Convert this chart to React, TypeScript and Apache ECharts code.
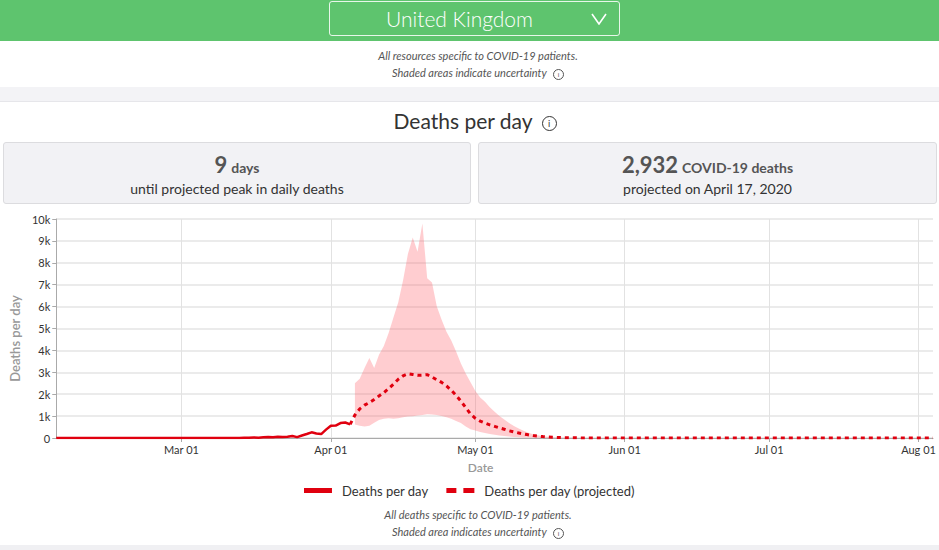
import React, { useEffect, useRef } from "react";
import * as echarts from "echarts";

// ---- data ----
const startDate = [2020, 1, 4]; // Feb 04 2020
const endDate = [2020, 7, 4]; // Aug 04 2020
const monthNames = ["Jan", "Feb", "Mar", "Apr", "May", "Jun", "Jul", "Aug", "Sep", "Oct", "Nov", "Dec"];

// observed deaths per day, Feb 04 .. Apr 05
const observed = [
  0, 0, 0, 0, 0, 0, 0, 0, 0, 0, 0, 0, 0, 0, 0, 0, 0, 0, 0, 0, 0, 0, 0, 0, 0, 0, 0, 0, 0, 0,
  1, 0, 1, 0, 1, 1, 2, 2, 1, 10, 14, 20, 16, 33, 40, 33, 56, 48, 54, 87, 41, 115, 181, 260,
  209, 180, 381, 563, 569, 684, 708, 621,
];

// projected deaths per day, Apr 05 .. Aug 04
const projectedStartIndex = 61;
const projected = [
  621, 1050, 1330, 1500, 1620, 1760, 1920, 2070, 2260, 2460, 2680, 2840, 2932, 2900, 2860, 2870,
  2890, 2780, 2660, 2540, 2380, 2180, 1950, 1680, 1390, 1100, 900, 770, 680, 600, 530, 460, 400,
  330, 275, 230, 185, 145, 110, 85, 65, 48, 35, 26, 19, 14, 10, 7, 5, 4, 3, 2, 2, 1,
  1, 1, 1, 1, 1, 1,
  0, 0, 0, 0, 0, 0, 0, 0, 0, 0, 0, 0, 0, 0, 0, 0, 0, 0, 0, 0, 0, 0, 0, 0, 0, 0, 0, 0, 0, 0, 0,
  0, 0, 0, 0, 0, 0, 0, 0, 0, 0, 0, 0, 0, 0, 0, 0, 0, 0, 0, 0, 0, 0, 0, 0, 0, 0, 0, 0, 0, 0, 0,
];

// uncertainty band, Apr 06 .. May 24
const bandStartIndex = 62;
const bandLower = [
  620, 560, 520, 560, 700, 820, 880, 900, 880, 900, 950, 980, 990, 1030, 1050, 1080, 1070, 1050,
  1010, 950, 880, 780, 690, 520, 400, 340, 270, 230, 185, 150, 115, 90, 65, 50, 38, 28, 20, 14,
  10, 7, 5, 4, 3, 2, 2, 1, 1, 1, 0,
];
const bandUpper = [
  2500, 2700, 3200, 3650, 3200, 3800, 4200, 4800, 5500, 6200, 7200, 8400, 9150, 8500, 9800, 7300,
  7100, 6000, 5400, 4850, 4450, 3950, 3400, 2950, 2550, 2150, 1850, 1650, 1400, 1200, 1000, 850,
  690, 550, 430, 330, 245, 175, 120, 80, 55, 35, 22, 14, 9, 6, 4, 2, 1,
];

const yTickLabels = ["0", "1k", "2k", "3k", "4k", "5k", "6k", "7k", "8k", "9k", "10k"];

const RED = "#e0000f";
const FONT = "Lato, 'Open Sans', sans-serif";

function buildDates(): string[] {
  const out: string[] = [];
  const d = new Date(startDate[0], startDate[1], startDate[2]);
  const end = new Date(endDate[0], endDate[1], endDate[2]);
  while (d.getTime() <= end.getTime()) {
    const dd = d.getDate();
    out.push(monthNames[d.getMonth()] + " " + (dd < 10 ? "0" + dd : "" + dd));
    d.setDate(d.getDate() + 1);
  }
  return out;
}

function pad(arr: number[], start: number, total: number): (number | null)[] {
  const res: (number | null)[] = [];
  for (let i = 0; i < total; i++) {
    const j = i - start;
    res.push(j >= 0 && j < arr.length ? arr[j] : null);
  }
  return res;
}

const Info = ({ size }: { size: number }) => (
  <span
    style={{
      display: "inline-block",
      width: size,
      height: size,
      borderRadius: "50%",
      border: "1px solid currentColor",
      fontSize: size * 0.72,
      lineHeight: size + "px",
      textAlign: "center",
      fontStyle: "normal",
      verticalAlign: "middle",
      marginLeft: 4,
      boxSizing: "content-box",
    }}
  >
    i
  </span>
);

function Chart() {
  const ref = useRef<HTMLDivElement>(null);
  useEffect(() => {
    if (!ref.current) return;
    const chart = echarts.init(ref.current, undefined, { renderer: "svg" });
    const dates = buildDates();
    const n = dates.length;
    const isMonthStart = (_i: number, v: string) => / 01$/.test(v);
    const diff = bandUpper.map((u, i) => u - bandLower[i]);
    chart.setOption({
      animation: false,
      textStyle: { fontFamily: FONT },
      grid: { left: 52, right: 6, top: 14, bottom: 67 },
      legend: {
        data: [
          { name: "Deaths per day", icon: "path://M0,0h28v5h-28z" },
          { name: "Deaths per day (projected)", icon: "path://M0,0h10v5h-10z M17,0h11v5h-11z" },
        ],
        top: 274,
        left: "center",
        itemWidth: 28,
        itemHeight: 5,
        itemGap: 18,
        textStyle: { fontSize: 13, color: "#333", fontFamily: FONT, padding: [0, 0, 0, 5] },
      },
      xAxis: {
        type: "category",
        data: dates,
        boundaryGap: false,
        axisLine: { lineStyle: { color: "#aaa" } },
        axisTick: { interval: isMonthStart, length: 4, lineStyle: { color: "#aaa" } },
        axisLabel: { interval: isMonthStart, color: "#333", fontSize: 11, margin: 6, fontFamily: FONT },
        splitLine: { show: true, interval: isMonthStart, lineStyle: { color: "#e2e2e2" } },
        name: "Date",
        nameLocation: "middle",
        nameGap: 23,
        nameTextStyle: { color: "#999", fontSize: 12, fontWeight: 600, padding: [0, 28, 0, 0], fontFamily: FONT },
      },
      yAxis: {
        type: "value",
        min: 0,
        max: 10000,
        interval: 1000,
        axisLine: { show: true, lineStyle: { color: "#aaa" } },
        axisTick: { show: true, length: 4, lineStyle: { color: "#aaa" } },
        axisLabel: {
          color: "#333",
          fontSize: 11,
          margin: 6,
          fontFamily: FONT,
          formatter: (v: number) => yTickLabels[Math.round(v / 1000)],
        },
        splitLine: { lineStyle: { color: "#e5e5e5", width: 1.5 } },
        name: "Deaths per day",
        nameLocation: "middle",
        nameGap: 35,
        nameTextStyle: { color: "#999", fontSize: 13, fontWeight: 600, fontFamily: FONT, padding: [0, 20, 0, 0] },
      },
      series: [
        {
          name: "lower",
          type: "line",
          stack: "band",
          data: pad(bandLower, bandStartIndex, n),
          symbol: "none",
          silent: true,
          lineStyle: { opacity: 0 },
        },
        {
          name: "band",
          type: "line",
          stack: "band",
          data: pad(diff, bandStartIndex, n),
          symbol: "none",
          silent: true,
          lineStyle: { opacity: 0 },
          areaStyle: { color: "rgba(255, 90, 100, 0.3)", opacity: 1 },
        },
        {
          name: "Deaths per day",
          type: "line",
          data: pad(observed, 0, n),
          symbol: "none",
          lineStyle: { color: RED, width: 2.5 },
          itemStyle: { color: RED },
        },
        {
          name: "Deaths per day (projected)",
          type: "line",
          data: pad(projected, projectedStartIndex, n),
          symbol: "none",
          lineStyle: { color: RED, width: 3, type: [4, 4] },
          itemStyle: { color: RED },
        },
      ],
    });
    return () => chart.dispose();
  }, []);
  return <div ref={ref} style={{ position: "absolute", left: 0, top: 205, width: 939, height: 300 }} />;
}

export default function App() {
  const note: React.CSSProperties = {
    position: "absolute",
    left: 0,
    width: 956,
    textAlign: "center",
    fontSize: 11,
    fontStyle: "italic",
    color: "#555",
    whiteSpace: "nowrap",
  };
  const box: React.CSSProperties = {
    position: "absolute",
    top: 142,
    height: 60,
    background: "#f2f2f5",
    border: "1px solid #dcdcdf",
    borderRadius: 3,
    textAlign: "center",
    color: "#333",
  };
  return (
    <div
      style={{
        position: "absolute",
        left: 0,
        top: 0,
        width: 939,
        height: 550,
        background: "#fff",
        overflow: "hidden",
        fontFamily: FONT,
      }}
    >
      <div style={{ position: "absolute", left: 0, top: 0, width: 939, height: 41, background: "#5ec46e" }}>
        <div
          style={{
            position: "absolute",
            left: 329,
            top: 1,
            width: 289,
            height: 33,
            border: "1px solid rgba(255,255,255,0.85)",
            borderRadius: 3,
            color: "#fff",
            fontSize: 21,
            fontWeight: 300,
            lineHeight: "33px",
            textAlign: "center",
          }}
        >
          <span style={{ marginLeft: -30 }}>United Kingdom</span>
          <svg style={{ position: "absolute", right: 12, top: 11 }} width="16" height="12" viewBox="0 0 16 12">
            <polyline points="1,1 8,11 15,1" fill="none" stroke="#fff" strokeWidth="1.6" />
          </svg>
        </div>
      </div>
      <div style={{ ...note, top: 49 }}>All resources specific to COVID-19 patients.</div>
      <div style={{ ...note, top: 66 }}>
        Shaded areas indicate uncertainty <Info size={9} />
      </div>
      <div style={{ position: "absolute", left: 0, top: 87, width: 939, height: 14, background: "#f3f3f6", borderBottom: "1px solid #e6e6ea" }} />
      <div
        style={{
          position: "absolute",
          left: 0,
          top: 108,
          width: 950,
          textAlign: "center",
          fontSize: 21,
          color: "#333",
          whiteSpace: "nowrap",
        }}
      >
        Deaths per day <Info size={13} />
      </div>
      <div style={{ ...box, left: 3, width: 466 }}>
        <div style={{ marginTop: 8, color: "#555", fontWeight: 700 }}>
          <span style={{ fontSize: 22 }}>9</span> <span style={{ fontSize: 14 }}>days</span>
        </div>
        <div style={{ fontSize: 14, marginTop: 2 }}>until projected peak in daily deaths</div>
      </div>
      <div style={{ ...box, left: 478, width: 457 }}>
        <div style={{ marginTop: 8, color: "#555", fontWeight: 700 }}>
          <span style={{ fontSize: 22 }}>2,932</span> <span style={{ fontSize: 14 }}>COVID-19 deaths</span>
        </div>
        <div style={{ fontSize: 14, marginTop: 2 }}>projected on April 17, 2020</div>
      </div>
      <Chart />
      <div style={{ ...note, top: 508 }}>All deaths specific to COVID-19 patients.</div>
      <div style={{ ...note, top: 525 }}>
        Shaded area indicates uncertainty <Info size={9} />
      </div>
      <div style={{ position: "absolute", left: 0, top: 545, width: 939, height: 5, background: "#f0f0f3" }} />
    </div>
  );
}
